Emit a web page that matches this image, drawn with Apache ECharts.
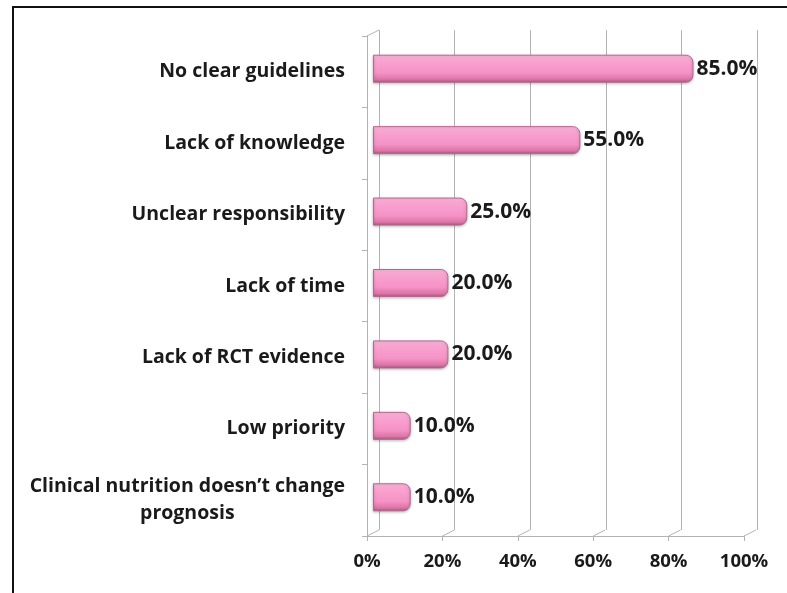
<!DOCTYPE html>
<html>
<head>
<meta charset="utf-8">
<title>Barriers</title>
<script src="https://cdn.jsdelivr.net/npm/echarts@6.0.0/dist/echarts.min.js"></script>
<style>
  html, body { margin: 0; padding: 0; background: #fff; }
  #frame { position: absolute; left: 12px; top: 6px; width: 780px; height: 600px;
           border-top: 2px solid #111; border-left: 2px solid #111; }
  #chart { position: absolute; left: 0; top: 0; width: 787px; height: 593px; }
</style>
</head>
<body>
<div id="frame"></div>
<div id="chart"></div>
<script>
var categories = [
  "No clear guidelines",
  "Lack of knowledge",
  "Unclear responsibility",
  "Lack of time",
  "Lack of RCT evidence",
  "Low priority",
  "Clinical nutrition doesn\u2019t change\nprognosis"
];
var values = [85, 55, 25, 20, 20, 10, 10];
var xTicks = [0, 20, 40, 60, 80, 100];

var FONT = "'Open Sans', Lato, sans-serif";
var GRIDLINE = "#b3b3b3";

var chart = echarts.init(document.getElementById("chart"));

var pinkFill = new echarts.graphic.LinearGradient(0, 0, 0, 1, [
  { offset: 0, color: "#fcc6e3" },
  { offset: 0.18, color: "#f9a4d1" },
  { offset: 0.65, color: "#f592c6" },
  { offset: 0.88, color: "#dc74a7" },
  { offset: 1, color: "#a9567a" }
]);

function catLabel(v) {
  return v.split("\n").map(function (line, i) {
    return i === 0 ? "{a|" + line + "}" : "{c|" + line + "}";
  }).join("\n");
}

var labelRich = {
  a: { fontFamily: FONT, fontWeight: "bold", fontSize: 19.5, color: "#1a1a1a", lineHeight: 27 },
  c: { fontFamily: FONT, fontWeight: "bold", fontSize: 19.5, color: "#1a1a1a", lineHeight: 27, align: "center" }
};

chart.setOption({
  animation: false,
  grid: [
    { left: 373, right: 37, top: 33, bottom: 60 },   // bars (middle depth)
    { left: 379, right: 30, top: 30, bottom: 63 },   // back wall
    { left: 367, right: 43, top: 36, bottom: 57 }    // front axes
  ],
  xAxis: [
    { gridIndex: 0, type: "value", min: 0, max: 100, interval: 20, show: false },
    { gridIndex: 1, type: "value", min: 0, max: 100, interval: 20,
      axisLine: { show: false }, axisTick: { show: false }, axisLabel: { show: false },
      splitLine: { show: true, lineStyle: { color: GRIDLINE, width: 1 } } },
    { gridIndex: 2, type: "value", min: 0, max: 100, interval: 20,
      axisLine: { show: true, lineStyle: { color: GRIDLINE } },
      axisTick: { show: true, length: 5, lineStyle: { color: GRIDLINE } },
      splitLine: { show: false },
      axisLabel: { formatter: "{value}%", fontFamily: FONT, fontWeight: "bold",
                   fontSize: 18.5, color: "#1a1a1a", margin: 16 } }
  ],
  yAxis: [
    { gridIndex: 0, type: "category", inverse: true, data: categories, show: false },
    { gridIndex: 1, type: "category", inverse: true, data: categories, show: false },
    { gridIndex: 2, type: "category", inverse: true, data: categories,
      axisLine: { show: true, lineStyle: { color: GRIDLINE } },
      axisTick: { show: true, length: 5, lineStyle: { color: GRIDLINE } },
      splitLine: { show: false },
      axisLabel: { margin: 22, formatter: catLabel, rich: labelRich } }
  ],
  series: [
    {
      type: "custom",
      xAxisIndex: 2, yAxisIndex: 2,
      data: xTicks,
      silent: true,
      z: 1,
      renderItem: function (params, api) {
        var cs = params.coordSys;
        var x = api.coord([api.value(0), categories[0]])[0];
        var yb = cs.y + cs.height;
        var children = [{
          type: "line",
          shape: { x1: x, y1: yb, x2: x + 12, y2: yb - 6 },
          style: { stroke: GRIDLINE, lineWidth: 1 }
        }];
        if (api.value(0) === 0) {
          children.push({
            type: "line",
            shape: { x1: x, y1: cs.y, x2: x + 12, y2: cs.y - 6 },
            style: { stroke: GRIDLINE, lineWidth: 1 }
          });
        }
        return { type: "group", children: children };
      },
      encode: { x: 0 }
    },
    {
      type: "bar",
      xAxisIndex: 0, yAxisIndex: 0,
      data: values,
      barWidth: 28,
      z: 3,
      itemStyle: {
        color: pinkFill,
        borderColor: "#b8668d",
        borderWidth: 1,
        borderRadius: [0, 7, 7, 0],
        shadowColor: "rgba(0,0,0,0.25)",
        shadowBlur: 3,
        shadowOffsetY: 1
      },
      label: {
        show: true,
        position: "right",
        distance: 3,
        formatter: function (p) { return p.value.toFixed(1) + "%"; },
        fontFamily: FONT,
        fontWeight: "bold",
        fontSize: 21,
        color: "#1a1a1a"
      }
    }
  ]
});
</script>
</body>
</html>
